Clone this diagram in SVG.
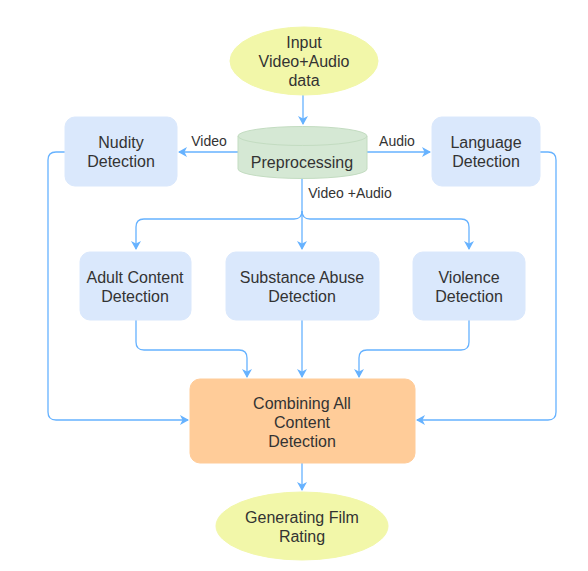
<svg xmlns="http://www.w3.org/2000/svg" width="588" height="571" viewBox="0 0 588 571">
<defs>
<style>
.t{font-family:"Liberation Sans",Arial,sans-serif;font-size:16px;fill:#333;text-anchor:middle}
.l{font-family:"Liberation Sans",Arial,sans-serif;font-size:14px;fill:#333;text-anchor:middle}
.box{fill:#dae8fc;stroke:#dae8fc}
.ell{fill:#f2f7a9;stroke:#f2f7a9}
.c{fill:none;stroke:#66b2ff;stroke-width:1.3;marker-end:url(#a)}
</style>
<marker id="a" markerWidth="10" markerHeight="10" refX="8" refY="5" orient="auto" markerUnits="userSpaceOnUse">
<path d="M0,0 L9,5 L0,10 L2.5,5 Z" fill="#66b2ff"/>
</marker>
</defs>
<rect width="588" height="571" fill="#fff"/>
<g id="connectors">
<path class="c" d="M303,95 V124"/>
<path class="c" d="M238,152 H179"/>
<path class="c" d="M367,152 H430"/>
<path class="c" d="M302,178 V249"/>
<path class="c" d="M302,211 Q302,219 294,219 H144 Q136,219 136,227 V249"/>
<path class="c" d="M302,211 Q302,219 310,219 H461 Q469,219 469,227 V249"/>
<path class="c" d="M136,320 V342 Q136,350 144,350 H239 Q247,350 247,358 V377"/>
<path class="c" d="M302,320 V377"/>
<path class="c" d="M469,320 V342 Q469,350 461,350 H367 Q359,350 359,358 V377"/>
<path class="c" d="M65,152 H56 Q48,152 48,160 V412 Q48,420 56,420 H188"/>
<path class="c" d="M540,152 H548 Q556,152 556,160 V412 Q556,420 548,420 H417"/>
<path class="c" d="M302,463 V490"/>
<text class="l" x="209" y="146">Video</text>
<text class="l" x="397" y="146">Audio</text>
<text class="l" x="350" y="198">Video +Audio</text>
</g>
<g id="input">
<ellipse class="ell" cx="304" cy="61" rx="74" ry="34"/>
<text class="t" x="304" y="48">Input</text>
<text class="t" x="304" y="67">Video+Audio</text>
<text class="t" x="304" y="86">data</text>
</g>
<g id="preprocessing">
<path d="M238,136 A64.5,9.5 0 0 1 367,136 V169 A64.5,9.5 0 0 1 238,169 Z" fill="#d5e8d4" stroke="#c3dcc1"/>
<path d="M238,136 A64.5,9.5 0 0 0 367,136" fill="none" stroke="#c3dcc1"/>
<text class="t" x="302" y="168">Preprocessing</text>
</g>
<g id="nudity">
<rect class="box" x="65" y="117" width="112" height="69" rx="10"/>
<text class="t" x="121" y="148">Nudity</text>
<text class="t" x="121" y="167">Detection</text>
</g>
<g id="language">
<rect class="box" x="432" y="117" width="108" height="69" rx="10"/>
<text class="t" x="486" y="148">Language</text>
<text class="t" x="486" y="167">Detection</text>
</g>
<g id="adult">
<rect class="box" x="80" y="252" width="111" height="68" rx="10"/>
<text class="t" x="135" y="283">Adult Content</text>
<text class="t" x="135" y="302">Detection</text>
</g>
<g id="substance">
<rect class="box" x="226" y="252" width="153" height="68" rx="10"/>
<text class="t" x="302" y="283">Substance Abuse</text>
<text class="t" x="302" y="302">Detection</text>
</g>
<g id="violence">
<rect class="box" x="413" y="252" width="112" height="68" rx="10"/>
<text class="t" x="469" y="283">Violence</text>
<text class="t" x="469" y="302">Detection</text>
</g>
<g id="combining">
<rect x="190" y="379" width="225" height="84" rx="10" fill="#ffcc99" stroke="#ffcc99"/>
<text class="t" x="302" y="409">Combining All</text>
<text class="t" x="302" y="428">Content</text>
<text class="t" x="302" y="447">Detection</text>
</g>
<g id="rating">
<ellipse class="ell" cx="302" cy="526" rx="86" ry="34"/>
<text class="t" x="302" y="523">Generating Film</text>
<text class="t" x="302" y="542">Rating</text>
</g>
</svg>
